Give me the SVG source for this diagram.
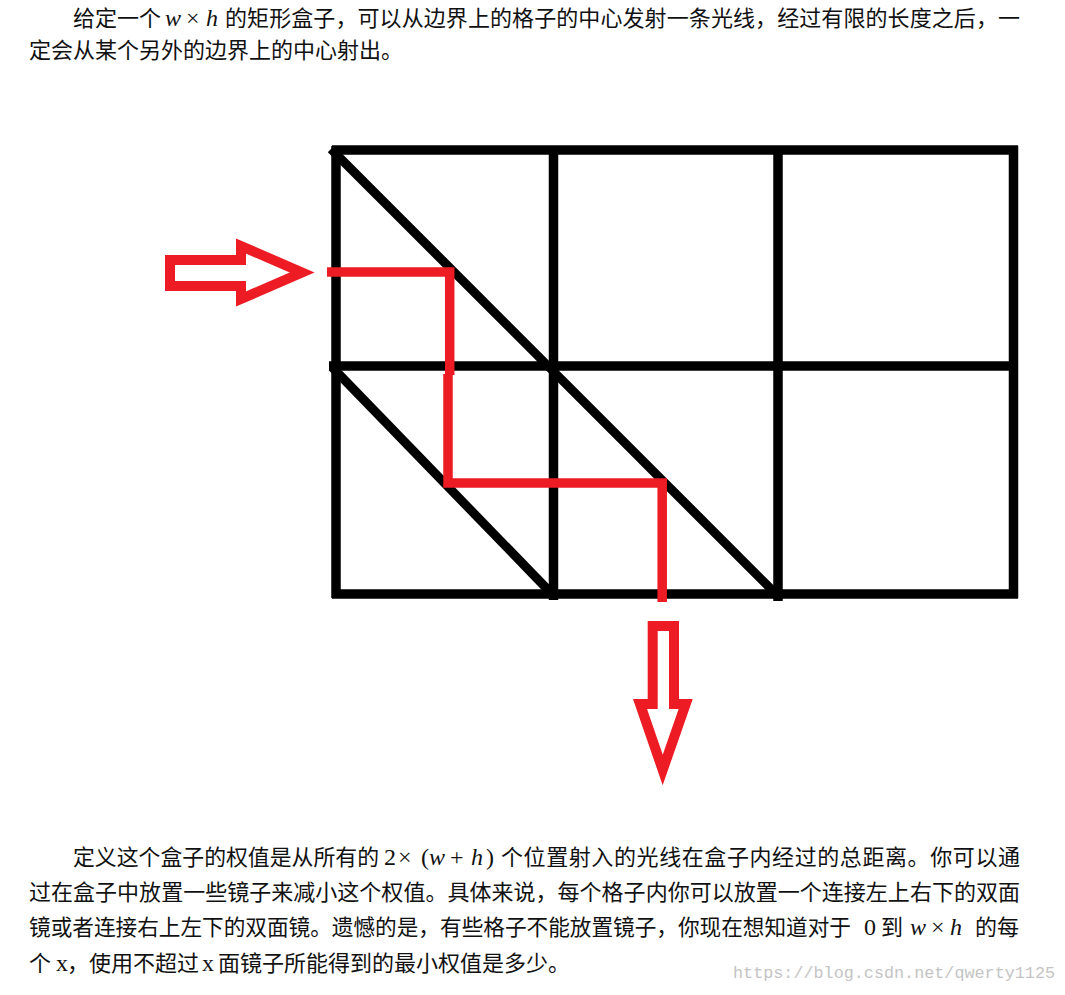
<svg xmlns="http://www.w3.org/2000/svg" width="1065" height="995" viewBox="0 0 1065 995">
<style>
.cjk{font-family:"Noto Sans CJK SC","Liberation Serif",sans-serif;font-size:22px;fill:#111}
.m{font-family:"Liberation Serif",serif;font-size:24px;fill:#111}
.mi{font-family:"Liberation Serif",serif;font-size:24px;font-style:italic;fill:#111}
.wm{font-family:"Liberation Mono",monospace;font-size:17px;fill:#c4c4c4}
.grid line{stroke:#000;stroke-width:9.5;stroke-linecap:butt}
.mirror line{stroke:#000;stroke-width:9;stroke-linecap:butt}
.ray{fill:none;stroke:#ED1C24;stroke-width:9.5;stroke-linejoin:miter;stroke-linecap:butt}
.arrow{fill:none;stroke:#ED1C24;stroke-width:10;stroke-linejoin:miter;stroke-miterlimit:6}
</style>
<rect width="1065" height="995" fill="#fff"/>

<g id="text-top">
<text class="cjk" x="73" y="26">给定一个</text>
<text class="mi" x="165" y="26">w</text>
<text class="m" x="186" y="26">×</text>
<text class="mi" x="206" y="26">h</text>
<text class="cjk" x="225" y="26" textLength="795" lengthAdjust="spacing">的矩形盒子，可以从边界上的格子的中心发射一条光线，经过有限的长度之后，一</text>
<text class="cjk" x="29" y="58">定会从某个另外的边界上的中心射出。</text>
</g>

<g id="grid" class="grid">
<line x1="332" y1="150" x2="1018" y2="150"/>
<line x1="329" y1="366" x2="1018" y2="366"/>
<line x1="332" y1="594" x2="1018" y2="594"/>
<line x1="336" y1="146" x2="336" y2="598"/>
<line x1="553.5" y1="146" x2="553.5" y2="600"/>
<line x1="778" y1="146" x2="778" y2="601"/>
<line x1="1013.5" y1="146" x2="1013.5" y2="598"/>
</g>

<g id="mirrors" class="mirror">
<line x1="331" y1="149" x2="778" y2="596"/>
<line x1="332" y1="367" x2="553" y2="595"/>
</g>

<g id="connectors">
<path class="ray" d="M327,272 H449.7 V375"/>
<path class="ray" d="M448,374 V483 H662.2 V602"/>
</g>

<g id="arrow-in">
<polygon class="arrow" points="170,260 241,260 241,246 302,272.5 241,299 241,286 170,286"/>
</g>

<g id="arrow-out">
<polygon class="arrow" points="652.7,626 674,626 674,704 685.7,704 662.7,770 640,704 652.7,704"/>
</g>

<g id="text-bottom">
<text class="cjk" x="73" y="865" textLength="306" lengthAdjust="spacingAndGlyphs">定义这个盒子的权值是从所有的</text>
<text class="m" x="384" y="865">2</text>
<text class="m" x="398" y="865">×</text>
<text class="m" x="421" y="865">(</text>
<text class="mi" x="429" y="865">w</text>
<text class="m" x="450" y="865">+</text>
<text class="mi" x="471" y="865">h</text>
<text class="m" x="486" y="865">)</text>
<text class="cjk" x="501" y="865" textLength="519" lengthAdjust="spacing">个位置射入的光线在盒子内经过的总距离。你可以通</text>

<text class="cjk" x="29" y="900" textLength="991" lengthAdjust="spacing">过在盒子中放置一些镜子来减小这个权值。具体来说，每个格子内你可以放置一个连接左上右下的双面</text>

<text class="cjk" x="29" y="935" textLength="822" lengthAdjust="spacingAndGlyphs">镜或者连接右上左下的双面镜。遗憾的是，有些格子不能放置镜子，你现在想知道对于</text>
<text class="m" x="864" y="935">0</text>
<text class="cjk" x="881" y="935">到</text>
<text class="mi" x="910" y="935">w</text>
<text class="m" x="931" y="935">×</text>
<text class="mi" x="950" y="935">h</text>
<text class="cjk" x="975" y="935">的每</text>

<text class="cjk" x="29" y="971">个</text>
<text class="m" x="56" y="971">x</text>
<text class="cjk" x="67" y="971">，使用不超过</text>
<text class="m" x="202" y="971">x</text>
<text class="cjk" x="218" y="971">面镜子所能得到的最小权值是多少。</text>

<text class="wm" x="733" y="978" textLength="322" lengthAdjust="spacingAndGlyphs">https://blog.csdn.net/qwerty1125</text>
</g>
</svg>
